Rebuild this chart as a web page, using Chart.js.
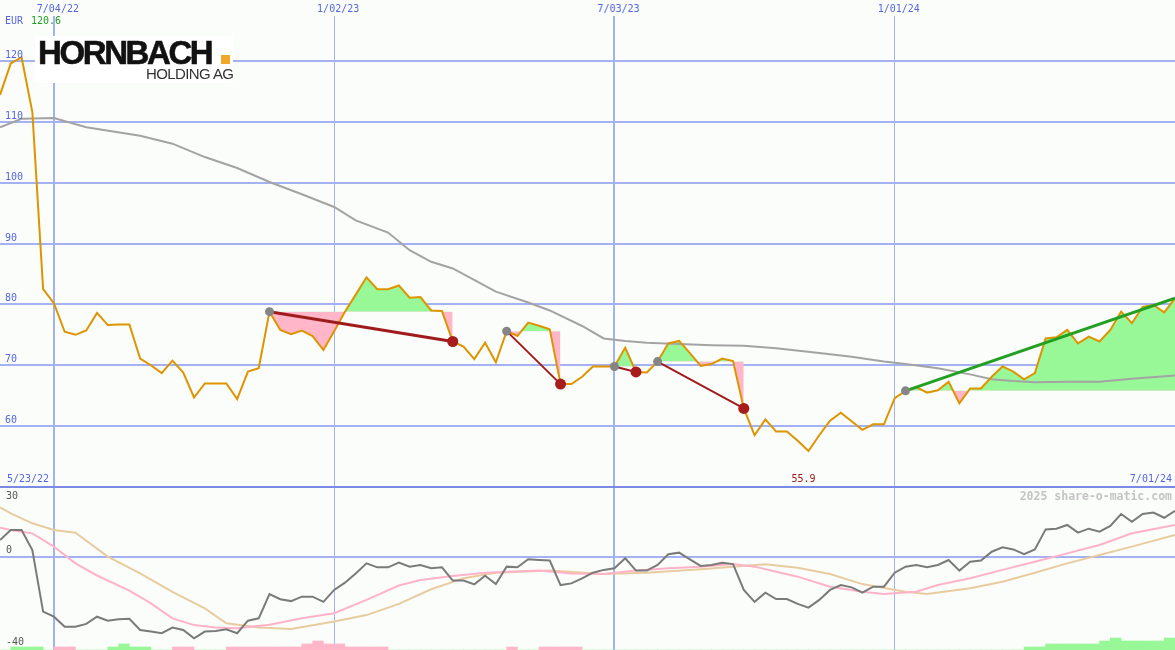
<!DOCTYPE html>
<html>
<head>
<meta charset="utf-8">
<title>HORNBACH Holding AG</title>
<script src="https://cdn.jsdelivr.net/npm/chart.js@4.4.1/dist/chart.umd.min.js"></script>
<style>
  html, body { margin: 0; padding: 0; background: #fbfdfb; }
  #wrap { position: relative; width: 1175px; height: 650px; overflow: hidden; background: #fbfdfb; }
  #grafico-precio { position: absolute; left: 0; top: 0; }
  #grafico-oscilador { position: absolute; left: 0; top: 487px; }
  #divisor { position: absolute; left: 0; top: 486px; width: 1175px; height: 2px; background: #7b8ae6; }
  .lbl { position: absolute; font: 10px "DejaVu Sans Mono", monospace; line-height: 10px; white-space: nowrap; color: #5566e0; }
  #logo-caja { position: absolute; left: 35px; top: 36px; width: 198px; height: 47px; background: #ffffff; }
  #logo-nombre { position: absolute; left: 38px; top: 36px; font: bold 33px "Liberation Sans", Arial, sans-serif; line-height: 33px; letter-spacing: -2.4px; color: #111; -webkit-text-stroke: 0.6px #111; }
  #logo-punto { position: absolute; left: 221px; top: 55px; width: 9px; height: 9px; background: #f0a828; }
  #logo-sub { position: absolute; left: 146px; top: 66px; font: 15px "Liberation Sans", Arial, sans-serif; line-height: 15px; letter-spacing: -0.6px; color: #333; }
</style>
</head>
<body>
<div id="wrap">
  <canvas id="grafico-precio" width="1175" height="487"></canvas>
  <canvas id="grafico-oscilador" width="1175" height="163"></canvas>
  <div id="divisor"></div>
  <div id="logo-caja"></div>
  <div id="logo-nombre">HORNBACH</div>
  <div id="logo-punto"></div>
  <div id="logo-sub">HOLDING AG</div>
</div>
<script>
// Datos, una posicion por semana (0 = finales de mayo 2022)
const precios = [114.4, 119.6, 120.6, 111.6, 82.5, 80.2, 75.5, 75.0, 75.7, 78.6,
  76.6, 76.7, 76.7, 71.1, 70.0, 68.7, 70.75, 68.8, 64.7, 67.0,
  67.0, 67.0, 64.45, 68.95, 69.5, 78.8, 75.8, 75.1, 75.7, 74.8,
  72.5, 75.6, 78.8, 81.6, 84.45, 82.5, 82.5, 83.1, 81.1, 81.2,
  79.0, 78.9, 73.9, 73.05, 71.0, 73.7, 70.5, 75.6, 74.8, 77.0,
  76.5, 75.9, 66.9, 66.9, 68.1, 69.8, 69.8, 69.8, 72.9, 68.9,
  68.8, 70.6, 73.6, 74.0, 72.0, 69.9, 70.2, 71.1, 70.7, 62.9,
  58.5, 61.1, 59.1, 59.1, 57.6, 55.9, 58.5, 60.9, 62.2, 60.8,
  59.4, 60.3, 60.3, 64.6, 65.8, 66.4, 65.5, 65.9, 67.3, 63.75,
  66.2, 66.2, 68.1, 69.8, 68.95, 67.7, 68.7, 74.4, 74.6, 75.8,
  73.6, 74.7, 73.9, 75.8, 78.8, 76.9, 79.6, 79.9, 78.7, 81.0];

// media movil (gris)
const mediaSemanas = [0, 2, 5, 8, 13, 16, 19, 22, 25, 28, 31, 33, 36, 38, 40, 42, 46, 49, 51, 54,
  56, 58, 60, 63, 66, 69, 72, 76, 79, 82, 84, 87, 90, 92, 94, 96, 99, 102, 105, 109];
const mediaValores = [109.1, 110.5, 110.6, 109.1, 107.7, 106.4, 104.2, 102.4, 100.1, 98.1,
  96.0, 93.8, 91.8, 88.9, 87.0, 85.9, 82.1, 80.3, 79.0, 76.45,
  74.4, 74.0, 73.7, 73.5, 73.3, 73.2, 72.8, 72.0, 71.4, 70.6,
  70.2, 69.5, 68.5, 67.7, 67.4, 67.2, 67.3, 67.3, 67.8, 68.3];

// oscilador (linea gris oscura del panel inferior)
const oscilador = [7.2, 11.5, 11.5, 2.9, -23.5, -25.7, -30, -30, -28.8, -25.7,
  -27.4, -26.8, -26.6, -31.4, -32.1, -32.8, -30.4, -31.4, -35, -32.1,
  -31.8, -31.1, -32.8, -27.4, -26.4, -16, -18.2, -19, -17.1, -17.1,
  -19.3, -14.2, -11.1, -7.1, -2.8, -4.5, -4.5, -2.5, -4.2, -3.5,
  -4.9, -4.5, -10.2, -10.2, -11.8, -8.1, -11.7, -4.2, -4.5, -1.05,
  -1.3, -1.6, -12.1, -11.4, -9.2, -6.8, -5.6, -4.9, -0.6, -5.9,
  -5.9, -3.5, 1.1, 1.8, -1.05, -3.9, -3.5, -2.5, -3.1, -14.2,
  -19.3, -15.4, -18.1, -18.1, -20.2, -21.8, -18.5, -14.2, -12.1, -13.1,
  -15.4, -12.8, -12.8, -6.8, -4.2, -3.5, -4.5, -3.5, -1.35, -5.9,
  -2.1, -1.6, 2.2, 4.1, 3.2, 1.2, 3.2, 11.8, 12.1, 13.7,
  10.4, 12.1, 10.8, 13.3, 18.4, 15.1, 18.4, 19.0, 16.8, 19.8];

// linea de senal (rosa)
const senalSemanas = [0, 1, 3, 5, 7, 9, 12, 14, 16, 18, 20, 22, 25, 28, 31, 34, 37, 39, 42, 45,
  50, 53, 56, 59, 62, 65, 68, 70, 72, 74, 77, 80, 82, 85, 87, 90, 93, 96, 99, 102, 105, 109];
const senalValores = [12.5, 11.5, 10.1, 4.4, -2.8, -8.0, -14.5, -20, -26.4, -29.3,
  -30.3, -30.7, -29.2, -26.4, -24.2, -18.5, -12.3, -9.9, -8.2, -6.8,
  -5.9, -7.1, -7.4, -5.9, -4.9, -4.2, -3.1, -4.2, -6.4, -8.5,
  -12.8, -15, -16, -15, -12.1, -9.2, -5.6, -2.1, 1.5, 5.1, 10.1, 13.7];

// linea lenta (beige)
const lentaSemanas = [0, 1, 3, 5, 7, 10, 13, 16, 19, 21, 24, 27, 31, 34, 37, 40, 43, 46, 51, 56,
  60, 65, 71, 74, 77, 80, 84, 86, 90, 93, 96, 99, 102, 105, 109];
const lentaValores = [21.3, 18.7, 14.4, 11.5, 10.4, 0.1, -7.1, -15, -22.1, -28.5,
  -30.3, -31, -27.8, -25, -20.2, -13.9, -9.2, -6.8, -5.9, -7.4,
  -6.8, -5.3, -3.2, -4.7, -7.4, -11.7, -15, -16, -13.5, -10.7,
  -6.8, -2.8, 0.8, 4.4, 9.4];

// barras inferiores: positivo verde, negativo rosa
const histograma = [0, 1, 1, 1, 0, -1, -1, 0, 0, 0,
  1, 2, 1, 1, 0, 0, -1, -1, 0, 0,
  0, -1, -1, -1, -1, -1, -1, -1, -2, -3,
  -2, -2, -1, -1, -1, -1, 0, 0, 0, 0,
  0, 0, 0, 0, 0, 0, 0, -1, 0, 0,
  -1, -1, -1, -1, 0, 0, 0, 0, 0, 0,
  0, 0, 0, 0, 0, 0, 0, 0, 0, 0,
  0, 0, 0, 0, 0, 0, 0, 0, 0, 0,
  0, 0, 0, 0, 0, 0, 0, 0, 0, 0,
  0, 0, 0, 0, 0, 1, 1, 2, 2, 2,
  2, 2, 3, 4, 3, 3, 3, 3, 4, 0];

// senales de compra/venta (semana de inicio y de fin)
const senalInicio = [25, 47, 57, 61, 84];
const senalFin = [42, 52, 59, 69, 109];
const senalAbierta = [false, false, false, false, true];

// ejes y etiquetas
const fechasSemanas = [5, 31, 57, 83];
const fechasEtiquetas = ['7/04/22', '1/02/23', '7/03/23', '1/01/24'];
const preciosTicks = [60, 70, 80, 90, 100, 110, 120];
const osciladorTicks = [30, 0, -40];
const fechaInicio = '5/23/22';
const fechaFin = '7/01/24';
const moneda = 'EUR';

const verde = '#98f898';
const rosa = '#ffb6c8';
const azulRejilla = '#a4b1f2';

function puntos(semanas, valores) {
  return valores.map(function (v, i) { return { x: semanas[i], y: v }; });
}

const semanas = precios.map(function (p, i) { return i; });
const ultimaSemana = precios.length - 1;

function ejeX() {
  return {
    type: 'linear', min: 0, max: ultimaSemana, offset: false,
    afterBuildTicks: function (eje) { eje.ticks = fechasSemanas.map(function (v) { return { value: v }; }); },
    ticks: { display: false },
    grid: {
      offset: false, color: azulRejilla, drawTicks: false,
      lineWidth: function (ctx) { return ctx.index % 2 === 0 ? 2 : 1; }
    },
    border: { display: false }
  };
}

function crearGraficoPrecio() {
  const datasets = [];
  const aperturas = [];
  const cierres = [];
  senalInicio.forEach(function (ini, k) {
    aperturas.push({ x: ini, y: precios[ini] });
    if (!senalAbierta[k]) cierres.push({ x: senalFin[k], y: precios[senalFin[k]] });
  });
  datasets.push({ data: cierres, showLine: false, pointRadius: 5.5, pointBackgroundColor: '#a81c1c', pointBorderWidth: 0 });
  datasets.push({ data: aperturas, showLine: false, pointRadius: 4.5, pointBackgroundColor: '#858585', pointBorderWidth: 0 });

  // lineas entre apertura y cierre
  senalInicio.forEach(function (ini, k) {
    const fin = senalFin[k];
    datasets.push({
      data: [{ x: ini, y: precios[ini] }, { x: fin, y: precios[fin] }],
      borderColor: senalAbierta[k] ? '#22a022' : '#a01c1c',
      borderWidth: (k === 0 || senalAbierta[k]) ? 3 : 2,
      pointRadius: 0
    });
  });

  datasets.push({ data: puntos(semanas, precios), borderColor: '#de9400', borderWidth: 2, pointRadius: 0 });
  datasets.push({ data: puntos(mediaSemanas, mediaValores), borderColor: '#a3a3a3', borderWidth: 2, pointRadius: 0 });

  // zonas verdes/rosas respecto al precio de apertura
  senalInicio.forEach(function (ini, k) {
    const tramo = [];
    for (let i = ini; i <= senalFin[k]; i++) tramo.push({ x: i, y: precios[i] });
    datasets.push({
      data: tramo, borderColor: 'rgba(0,0,0,0)', borderWidth: 0, pointRadius: 0,
      fill: { target: { value: precios[ini] }, above: verde, below: rosa }
    });
  });

  return new Chart(document.getElementById('grafico-precio'), {
    type: 'line',
    data: { datasets: datasets },
    options: {
      responsive: false,
      animation: false,
      layout: { padding: 0, autoPadding: false },
      plugins: { legend: { display: false }, tooltip: { enabled: false } },
      elements: { line: { tension: 0 } },
      scales: {
        x: ejeX(),
        y: {
          min: 50, max: 130,
          afterBuildTicks: function (eje) { eje.ticks = preciosTicks.map(function (v) { return { value: v }; }); },
          ticks: { display: false },
          grid: { color: azulRejilla, lineWidth: 2, drawTicks: false },
          border: { display: false }
        }
      }
    }
  });
}

function crearGraficoOscilador() {
  return new Chart(document.getElementById('grafico-oscilador'), {
    type: 'line',
    data: {
      datasets: [
        { data: puntos(semanas, oscilador), borderColor: '#7a7a7a', borderWidth: 2, pointRadius: 0 },
        { data: puntos(senalSemanas, senalValores), borderColor: '#ffb2c8', borderWidth: 2, pointRadius: 0 },
        { data: puntos(lentaSemanas, lentaValores), borderColor: '#e8cca0', borderWidth: 2, pointRadius: 0 },
        {
          type: 'bar', yAxisID: 'yh',
          data: histograma.map(function (v, i) { return { x: i + 0.5, y: Math.abs(v) }; }),
          backgroundColor: function (ctx) { return histograma[ctx.dataIndex] >= 0 ? verde : rosa; },
          barPercentage: 1, categoryPercentage: 1, borderWidth: 0
        }
      ]
    },
    options: {
      responsive: false,
      animation: false,
      layout: { padding: 0, autoPadding: false },
      plugins: { legend: { display: false }, tooltip: { enabled: false } },
      elements: { line: { tension: 0 } },
      scales: {
        x: ejeX(),
        y: {
          min: -40, max: 30,
          afterBuildTicks: function (eje) { eje.ticks = [{ value: 0 }]; },
          ticks: { display: false },
          grid: { color: azulRejilla, lineWidth: 2, drawTicks: false },
          border: { display: false }
        },
        yh: { display: false, min: 0, max: 163 / 3 }
      }
    }
  });
}

const wrap = document.getElementById('wrap');

function etiqueta(texto, estilo) {
  const div = document.createElement('div');
  div.className = 'lbl';
  div.textContent = texto;
  Object.assign(div.style, estilo);
  wrap.appendChild(div);
  return div;
}

function ponerEtiquetas(graficoPrecio, graficoOsc) {
  const ex = graficoPrecio.scales.x;
  const ey = graficoPrecio.scales.y;
  const eo = graficoOsc.scales.y;

  fechasSemanas.forEach(function (s, k) {
    etiqueta(fechasEtiquetas[k], {
      left: (ex.getPixelForValue(s) + 4) + 'px', top: '0px', paddingTop: '4px', paddingBottom: '2px',
      transform: 'translateX(-50%)', background: '#fbfdfb'
    });
  });

  preciosTicks.forEach(function (v) {
    etiqueta(String(v), { left: '5px', top: (ey.getPixelForValue(v) - 11) + 'px' });
  });

  const maximo = Math.max.apply(null, precios);
  const minimo = Math.min.apply(null, precios);
  etiqueta(moneda, { left: '5px', top: '16px' });
  etiqueta(maximo.toFixed(1), { left: '31px', top: '16px', color: '#22a022' });
  etiqueta(minimo.toFixed(1), {
    left: (ex.getPixelForValue(precios.indexOf(minimo)) - 5) + 'px', top: '474px',
    transform: 'translateX(-50%)', color: '#a01818'
  });
  etiqueta(fechaInicio, { left: '7px', top: '474px' });
  etiqueta(fechaFin, { right: '3px', top: '474px' });

  osciladorTicks.forEach(function (v) {
    let top = 487 + eo.getPixelForValue(v) - 12;
    top = Math.max(491, Math.min(637, top));
    etiqueta(String(v), { left: '6px', top: top + 'px', color: '#555555' });
  });

  etiqueta('2025 share-o-matic.com', {
    right: '3px', top: '491px', color: '#c4c4c4', fontWeight: 'bold', fontSize: '11.5px', lineHeight: '11px'
  });
}

const graficoPrecio = crearGraficoPrecio();
const graficoOsc = crearGraficoOscilador();
ponerEtiquetas(graficoPrecio, graficoOsc);
</script>
</body>
</html>
